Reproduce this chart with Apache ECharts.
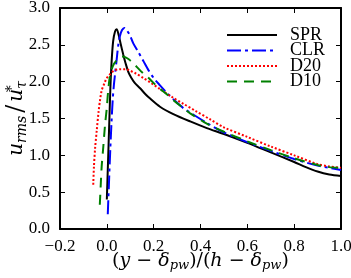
<!DOCTYPE html>
<html><head><meta charset="utf-8">
<script src="https://cdn.jsdelivr.net/npm/echarts@6/dist/echarts.min.js"></script>
<style>html,body{margin:0;padding:0;background:#fff}#c{width:351px;height:278px}</style>
</head><body><div id="c"></div>
<script>
const seriesNames = ['SPR', 'CLR', 'D20', 'D10'];

const sprX = [0.0, 0.005, 0.01, 0.015, 0.02, 0.027, 0.035, 0.042, 0.05, 0.06, 0.07, 0.08, 0.092, 0.105, 0.12, 0.142, 0.165, 0.185, 0.227, 0.284, 0.356, 0.427, 0.5, 0.6, 0.7, 0.8, 0.85, 0.9, 0.95, 1.0];
const sprY = [0.4, 0.9, 1.4, 1.9, 2.25, 2.55, 2.68, 2.71, 2.64, 2.5, 2.37, 2.25, 2.13, 2.05, 1.98, 1.91, 1.83, 1.77, 1.66, 1.56, 1.46, 1.37, 1.29, 1.17, 1.04, 0.91, 0.84, 0.78, 0.74, 0.72];

const clrX = [0.004, 0.01, 0.015, 0.02, 0.025, 0.03, 0.035, 0.042, 0.049, 0.056, 0.065, 0.075, 0.085, 0.1, 0.113, 0.135, 0.156, 0.177, 0.2, 0.227, 0.256, 0.284, 0.327, 0.356, 0.427, 0.5, 0.6, 0.7, 0.8, 0.9, 0.95, 1.0];
const clrY = [0.2, 0.7, 1.1, 1.45, 1.75, 1.95, 2.1, 2.3, 2.5, 2.62, 2.7, 2.73, 2.7, 2.62, 2.52, 2.4, 2.28, 2.16, 2.05, 1.95, 1.85, 1.76, 1.64, 1.58, 1.44, 1.31, 1.18, 1.06, 0.95, 0.86, 0.83, 0.8];

const d20X = [-0.058, -0.055, -0.05, -0.043, -0.035, -0.029, -0.022, -0.01, 0.0, 0.014, 0.03, 0.056, 0.08, 0.099, 0.125, 0.156, 0.19, 0.227, 0.284, 0.327, 0.38, 0.44, 0.5, 0.6, 0.7, 0.8, 0.9, 0.95, 1.0];
const d20Y = [0.6, 0.85, 1.1, 1.34, 1.6, 1.75, 1.88, 1.98, 2.05, 2.1, 2.15, 2.17, 2.17, 2.15, 2.11, 2.05, 1.98, 1.9, 1.78, 1.7, 1.6, 1.49, 1.38, 1.25, 1.12, 1.0, 0.88, 0.85, 0.83];

const d10X = [-0.03, -0.026, -0.022, -0.015, -0.008, 0.0, 0.005, 0.012, 0.02, 0.03, 0.042, 0.055, 0.068, 0.08, 0.095, 0.113, 0.14, 0.16, 0.185, 0.213, 0.256, 0.284, 0.327, 0.356, 0.427, 0.5, 0.6, 0.7, 0.8, 0.9, 0.95, 1.0];
const d10Y = [0.33, 0.6, 0.85, 1.12, 1.4, 1.65, 1.85, 2.05, 2.16, 2.24, 2.29, 2.33, 2.34, 2.33, 2.3, 2.25, 2.16, 2.1, 2.03, 1.94, 1.83, 1.75, 1.64, 1.57, 1.43, 1.32, 1.19, 1.07, 0.96, 0.87, 0.84, 0.83];

const xTickValues = [-0.2, 0.0, 0.2, 0.4, 0.6, 0.8, 1.0];
const xTickLabels = ['\u22120.2', '0.0', '0.2', '0.4', '0.6', '0.8', '1.0'];
const yTickValues = [0.0, 0.5, 1.0, 1.5, 2.0, 2.5, 3.0];
const yTickLabels = ['0.0', '0.5', '1.0', '1.5', '2.0', '2.5', '3.0'];

function zip(xs, ys) { return xs.map((x, i) => [x, ys[i]]); }
function lookup(vals, labels) {
  return v => { const i = vals.findIndex(t => Math.abs(t - v) < 1e-6); return i >= 0 ? labels[i] : ''; };
}

const FONT = 'Liberation Serif';
const MATH = 'DejaVu Serif';
const chart = echarts.init(document.getElementById('c'), null, { renderer: 'canvas' });

const axisCommon = {
  axisLine: { show: true, onZero: false, lineStyle: { color: '#000', width: 2 } },
  axisTick: { show: true, inside: true, length: 5, lineStyle: { color: '#000', width: 1 } },
  splitLine: { show: false }
};

const styles = [
  { color: '#000000', type: 'solid' },
  { color: '#0000ff', type: [14, 4, 3, 4] },
  { color: '#ff0000', type: [2, 2] },
  { color: '#008000', type: [10, 7] }
];
const datas = [zip(sprX, sprY), zip(clrX, clrY), zip(d20X, d20Y), zip(d10X, d10Y)];

chart.setOption({
  animation: false,
  backgroundColor: '#fff',
  grid: { left: 60, top: 8, right: 10, bottom: 49, containLabel: false, outerBoundsMode: 'none' },
  legend: {
    orient: 'vertical',
    left: 221, top: 21,
    itemWidth: 50, itemHeight: 14, itemGap: -2.5,
    data: seriesNames,
    itemStyle: { opacity: 0 },
    textStyle: { fontFamily: FONT, fontSize: 18, color: '#000', lineHeight: 14, padding: [0, 0, 0, 8] }
  },
  xAxis: [
    Object.assign({
      type: 'value', min: -0.2, max: 1.0, interval: 0.2, position: 'bottom',
      axisLabel: { formatter: lookup(xTickValues, xTickLabels), fontFamily: FONT, fontSize: 17, color: '#000', margin: 9 },
      name: '{n|(}{i|y}{n| \u2212 }{i|\u03b4}{sb|pw}{n|)/(}{i|h}{n| \u2212 }{i|\u03b4}{sb|pw}{n|)}',
      nameLocation: 'middle', nameGap: 21, nameMoveOverlap: false,
      nameTextStyle: {
        fontFamily: MATH, fontSize: 19, color: '#000', lineHeight: 22,
        rich: {
          n: { fontFamily: MATH, fontSize: 19, color: '#000', lineHeight: 22 },
          i: { fontFamily: MATH, fontSize: 19, fontStyle: 'italic', color: '#000', lineHeight: 22 },
          sb: { fontFamily: MATH, fontSize: 13, fontStyle: 'italic', color: '#000', lineHeight: 12, verticalAlign: 'bottom' }
        }
      }
    }, axisCommon),
    Object.assign({
      type: 'value', min: -0.2, max: 1.0, interval: 0.2, position: 'top',
      axisLabel: { show: false }
    }, axisCommon)
  ],
  yAxis: [
    Object.assign({
      type: 'value', min: 0, max: 3.0, interval: 0.5, position: 'left',
      axisLabel: { formatter: lookup(yTickValues, yTickLabels), fontFamily: FONT, fontSize: 17, color: '#000', margin: 10 },
      name: '{i|u}{sb|rms}{n|/}{i|u}{sp|*}{sb|\u03c4}',
      nameLocation: 'middle', nameGap: 31, nameRotate: 90, nameMoveOverlap: false,
      nameTextStyle: {
        fontFamily: MATH, fontSize: 20, color: '#000', lineHeight: 24,
        rich: {
          n: { fontFamily: MATH, fontSize: 24, color: '#000', lineHeight: 24, padding: [0, 3, 0, 3] },
          i: { fontFamily: MATH, fontSize: 20, fontStyle: 'italic', color: '#000', lineHeight: 24 },
          sb: { fontFamily: MATH, fontSize: 14, fontStyle: 'italic', color: '#000', lineHeight: 12, verticalAlign: 'bottom' },
          sp: { fontFamily: MATH, fontSize: 14, color: '#000', lineHeight: 12, verticalAlign: 'top', width: 0 }
        }
      }
    }, axisCommon),
    Object.assign({
      type: 'value', min: 0, max: 3.0, interval: 0.5, position: 'right',
      axisLabel: { show: false }
    }, axisCommon)
  ],
  series: seriesNames.map((name, i) => ({
    name, type: 'line', data: datas[i], symbol: 'none', smooth: 0.3,
    lineStyle: { color: styles[i].color, width: 2, type: styles[i].type },
    itemStyle: { color: styles[i].color },
    xAxisIndex: 0, yAxisIndex: 0
  }))
});
</script></body></html>
